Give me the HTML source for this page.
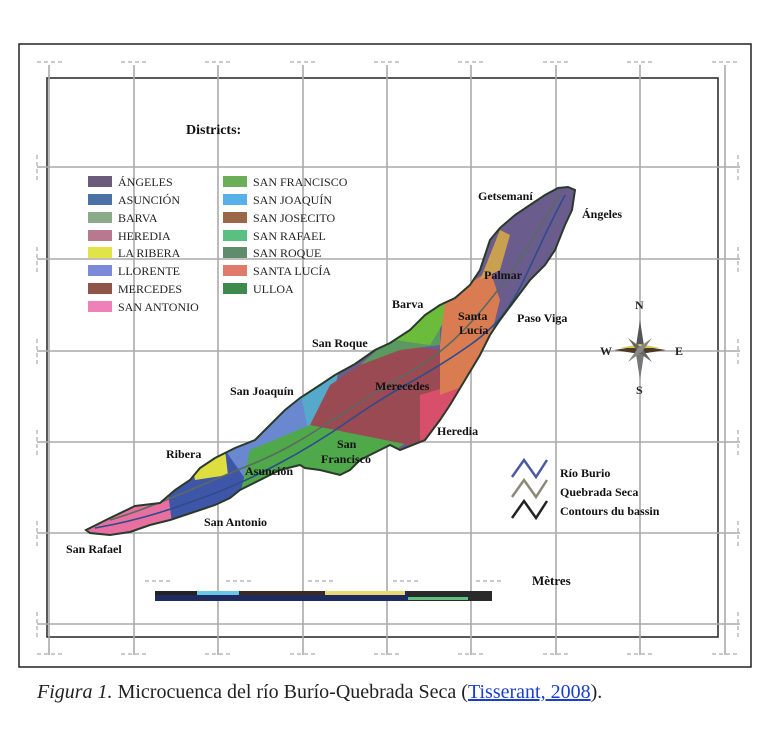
<!DOCTYPE html>
<html><head><meta charset="utf-8"><style>
body{margin:0;background:#fff;width:783px;height:745px;overflow:hidden;font-family:"Liberation Serif",serif}
svg{position:absolute;left:0;top:0}
.cap{position:absolute;left:37px;top:681px;font-size:20px;color:#222;font-family:"Liberation Serif",serif}
.cap a{color:#1a3fcc;text-decoration:underline}
</style></head><body>
<svg width="783" height="745" viewBox="0 0 783 745">
<defs><clipPath id="basin"><path id="bp" d="M86,530 L110,518 L135,506 L160,503 L175,490 L190,480 L200,468 L215,458 L235,448 L255,440 L270,425 L285,410 L300,398 L320,385 L335,375 L355,364 L375,350 L390,343 L410,330 L425,315 L440,305 L455,298 L470,285 L480,270 L490,240 L500,228 L515,215 L530,205 L545,195 L558,188 L568,187 L575,190 L572,210 L565,225 L555,250 L545,265 L530,280 L515,300 L500,320 L490,335 L480,355 L465,380 L450,405 L440,420 L425,440 L400,450 L390,445 L380,450 L360,460 L350,470 L340,475 L320,470 L305,468 L300,465 L280,470 L250,485 L240,490 L230,498 L215,505 L200,510 L185,515 L170,520 L150,525 L130,532 L110,535 L90,533 Z"/></clipPath></defs>
<rect x="19" y="44" width="732" height="623" fill="none" stroke="#222" stroke-width="1.5"/>
<rect x="47" y="78" width="671" height="559" fill="none" stroke="#222" stroke-width="1.5"/>
<g stroke="#aaa" stroke-width="1.6">
<line x1="49" y1="65" x2="49" y2="655"/><line x1="134" y1="65" x2="134" y2="655"/><line x1="218" y1="65" x2="218" y2="655"/><line x1="303" y1="65" x2="303" y2="655"/><line x1="387" y1="65" x2="387" y2="655"/><line x1="471" y1="65" x2="471" y2="655"/><line x1="556" y1="65" x2="556" y2="655"/><line x1="640" y1="65" x2="640" y2="655"/><line x1="725" y1="65" x2="725" y2="655"/>
<line x1="37" y1="167" x2="740" y2="167"/><line x1="37" y1="259" x2="740" y2="259"/><line x1="37" y1="351" x2="740" y2="351"/><line x1="37" y1="442" x2="740" y2="442"/><line x1="37" y1="533" x2="740" y2="533"/><line x1="37" y1="624" x2="740" y2="624"/>
</g>
<g stroke="#aaa" stroke-width="1.2" stroke-dasharray="4,3">
<line x1="37" y1="62" x2="63" y2="62"/><line x1="121" y1="62" x2="147" y2="62"/><line x1="205" y1="62" x2="231" y2="62"/><line x1="290" y1="62" x2="316" y2="62"/><line x1="374" y1="62" x2="400" y2="62"/><line x1="458" y1="62" x2="484" y2="62"/><line x1="543" y1="62" x2="569" y2="62"/><line x1="627" y1="62" x2="653" y2="62"/><line x1="712" y1="62" x2="738" y2="62"/>
<line x1="37" y1="654" x2="63" y2="654"/><line x1="121" y1="654" x2="147" y2="654"/><line x1="205" y1="654" x2="231" y2="654"/><line x1="290" y1="654" x2="316" y2="654"/><line x1="374" y1="654" x2="400" y2="654"/><line x1="458" y1="654" x2="484" y2="654"/><line x1="543" y1="654" x2="569" y2="654"/><line x1="627" y1="654" x2="653" y2="654"/><line x1="712" y1="654" x2="738" y2="654"/>
<line x1="37" y1="155" x2="37" y2="180"/><line x1="37" y1="247" x2="37" y2="272"/><line x1="37" y1="339" x2="37" y2="364"/><line x1="37" y1="430" x2="37" y2="455"/><line x1="37" y1="521" x2="37" y2="546"/><line x1="37" y1="612" x2="37" y2="637"/>
<line x1="738" y1="155" x2="738" y2="180"/><line x1="738" y1="247" x2="738" y2="272"/><line x1="738" y1="339" x2="738" y2="364"/><line x1="738" y1="430" x2="738" y2="455"/><line x1="738" y1="521" x2="738" y2="546"/><line x1="738" y1="612" x2="738" y2="637"/>
</g>
<g clip-path="url(#basin)">
<rect x="80" y="180" width="510" height="360" fill="#6b5c8e"/>
<polygon points="60,480 165,470 175,545 60,545" fill="#e870a0"/>
<polygon points="165,470 245,440 260,500 175,545" fill="#3f56a8"/>
<polygon points="190,455 225,450 228,475 195,480" fill="#dede40"/>
<polygon points="225,450 290,400 320,380 310,440 260,500" fill="#6a88d0"/>
<polygon points="300,390 340,365 330,410 310,440" fill="#55aacc"/>
<polygon points="250,450 310,425 410,440 350,480 240,495" fill="#4fa84a"/>
<polygon points="310,425 330,385 360,365 400,345 440,350 445,440 410,445" fill="#9a4a52"/>
<polygon points="420,395 470,380 440,450 420,450" fill="#d84f6c"/>
<polygon points="360,365 400,330 440,300 440,345 400,350" fill="#5a9a60"/>
<polygon points="395,340 450,290 445,320 430,345" fill="#6cbc3c"/>
<polygon points="440,345 445,300 490,270 500,300 480,380 440,395" fill="#d97c52"/>
<polygon points="480,280 500,230 510,235 500,270" fill="#c8a050"/>
</g>
<g fill="none" stroke-width="1.6" clip-path="url(#basin)">
<path d="M95,528 C140,520 170,510 210,495 S300,455 350,420 S420,380 470,345 S520,280 565,195" stroke="#2c4d8a"/>
<path d="M110,520 C160,505 200,485 250,465 S330,420 380,390 S450,350 490,300 S530,240 560,195" stroke="#5a6a60"/>
</g>
<use href="#bp" fill="none" stroke="#2a3a2a" stroke-width="2"/>
<text x="186" y="134" font-size="14" font-weight="bold" fill="#111">Districts:</text>
<g font-size="12" fill="#222">
<rect x="88" y="176" width="24" height="11" fill="#6b5c7c"/><text x="118" y="186">ÁNGELES</text>
<rect x="88" y="194" width="24" height="11" fill="#4a72a4"/><text x="118" y="204">ASUNCIÓN</text>
<rect x="88" y="212" width="24" height="11" fill="#8aaa88"/><text x="118" y="222">BARVA</text>
<rect x="88" y="230" width="24" height="11" fill="#b87890"/><text x="118" y="240">HEREDIA</text>
<rect x="88" y="247" width="24" height="11" fill="#e0e448"/><text x="118" y="257">LA RIBERA</text>
<rect x="88" y="265" width="24" height="11" fill="#7a8ad8"/><text x="118" y="275">LLORENTE</text>
<rect x="88" y="283" width="24" height="11" fill="#8e5448"/><text x="118" y="293">MERCEDES</text>
<rect x="88" y="301" width="24" height="11" fill="#f080b8"/><text x="118" y="311">SAN ANTONIO</text>
<rect x="223" y="176" width="24" height="11" fill="#6aae58"/><text x="253" y="186">SAN FRANCISCO</text>
<rect x="223" y="194" width="24" height="11" fill="#58b0e8"/><text x="253" y="204">SAN JOAQUÍN</text>
<rect x="223" y="212" width="24" height="11" fill="#9a6848"/><text x="253" y="222">SAN JOSECITO</text>
<rect x="223" y="230" width="24" height="11" fill="#58c080"/><text x="253" y="240">SAN RAFAEL</text>
<rect x="223" y="247" width="24" height="11" fill="#5e8c6c"/><text x="253" y="257">SAN ROQUE</text>
<rect x="223" y="265" width="24" height="11" fill="#e07a6c"/><text x="253" y="275">SANTA LUCÍA</text>
<rect x="223" y="283" width="24" height="11" fill="#3e8a4c"/><text x="253" y="293">ULLOA</text>
</g>
<g font-size="12" font-weight="bold" fill="#111">
<text x="478" y="200">Getsemaní</text><text x="582" y="218">Ángeles</text>
<text x="484" y="279">Palmar</text><text x="392" y="308">Barva</text>
<text x="458" y="320">Santa</text><text x="459" y="334">Lucía</text>
<text x="517" y="322">Paso Viga</text><text x="312" y="347">San Roque</text>
<text x="375" y="390">Merecedes</text><text x="230" y="395">San Joaquín</text>
<text x="437" y="435">Heredia</text><text x="337" y="448">San</text><text x="321" y="463">Francisco</text>
<text x="166" y="458">Ribera</text><text x="245" y="475">Asunción</text>
<text x="204" y="526">San Antonio</text><text x="66" y="553">San Rafael</text>
<text x="532" y="585" font-size="13">Mètres</text>
</g>
<g>
<polygon points="640,320 644,346 640,350 636,346" fill="#555"/><polygon points="640,380 644,354 640,350 636,354" fill="#777"/>
<polygon points="614,350 640,346 666,350 640,354" fill="#4a3a20"/><polygon points="620,348 640,344 660,348" fill="#d8c860"/>
<polygon points="628,338 642,348 652,362 638,352" fill="#666"/><polygon points="652,338 642,352 628,362 638,348" fill="#888"/>
<g font-size="12" font-weight="bold" fill="#222"><text x="635" y="309">N</text><text x="636" y="394">S</text><text x="600" y="355">W</text><text x="675" y="355">E</text></g>
</g>
<g fill="none" stroke-width="2.5">
<polyline points="512,477 524,460 536,477 547,460" stroke="#4a5aa0"/>
<polyline points="512,497 524,480 536,497 547,480" stroke="#8a8a78"/>
<polyline points="512,518 524,501 536,518 547,501" stroke="#222"/>
</g>
<g font-size="12" font-weight="bold" fill="#111"><text x="560" y="477">Río Burio</text><text x="560" y="496">Quebrada Seca</text><text x="560" y="515">Contours du bassin</text></g>
<g>
<rect x="155" y="591" width="337" height="10" fill="#1e2a60"/>
<rect x="155" y="591" width="42" height="4" fill="#222"/><rect x="197" y="591" width="42" height="4" fill="#68c8e8"/><rect x="239" y="591" width="120" height="4" fill="#3a2a20"/><rect x="325" y="591" width="80" height="4" fill="#e8d870"/><rect x="408" y="591" width="84" height="10" fill="#2a2a2a"/><rect x="408" y="597" width="60" height="3" fill="#60c080"/>
<g stroke="#aaa" stroke-width="1.2" stroke-dasharray="4,3"><line x1="145" y1="581" x2="172" y2="581"/><line x1="226" y1="581" x2="253" y2="581"/><line x1="308" y1="581" x2="336" y2="581"/><line x1="393" y1="581" x2="421" y2="581"/><line x1="476" y1="581" x2="504" y2="581"/></g>
</g>
</svg>
<div class="cap"><i>Figura 1.</i> Microcuenca del río Burío-Quebrada Seca (<a>Tisserant, 2008</a>).</div>
</body></html>
